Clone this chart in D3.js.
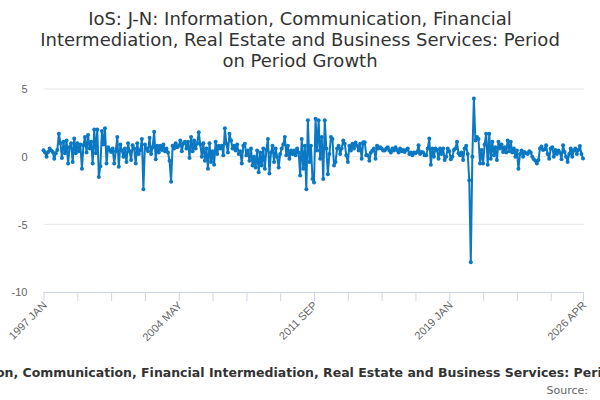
<!DOCTYPE html>
<html lang="en">
<head>
  <meta charset="UTF-8">
  <title>IoS: J-N Period on Period Growth</title>
  <script src="https://d3js.org/d3.v7.min.js"></script>
  <style>
    body { margin: 0; background: #fff; font-family: "DejaVu Sans", sans-serif; }
    .title { font-size: 18px; fill: #333; text-anchor: middle; }
    .grid line { stroke: #e6e6e6; }
    .axis text { font-size: 11px; fill: #666; }
    .x.axis path, .x.axis line { stroke: #ccd6eb; }
    .series { fill: none; stroke: #0a78c2; stroke-width: 2; stroke-linejoin: round; }
    .dot { fill: #0a78c2; }
    .caption { font-size: 12.5px; font-weight: bold; fill: #333; text-anchor: middle; }
    .source { font-size: 11px; fill: #666; text-anchor: end; }
  </style>
</head>
<body>
  <div id="chart"></div>
  <script>
    const titleLines = [
      "IoS: J-N: Information, Communication, Financial",
      "Intermediation, Real Estate and Business Services: Period",
      "on Period Growth"
    ];
    const caption = "IoS: J-N: Information, Communication, Financial Intermediation, Real Estate and Business Services: Period on Period Growth";

    // monthly growth, 1997 JAN .. 2006 OCT (117 months)
    const growth1997 = [
      0.48, 0.3, 0.0, 0.35, 0.6, 0.45, 0.35, -0.15, 0.25, 0.5,
      1.7, 1.0, -0.1, 1.1, 0.25, 1.2, -0.5, 0.7, 1.0, -0.4,
      1.35, 0.25, 1.0, 0.4, 0.9, -0.9, 0.85, 1.45, 0.3, 1.6,
      0.6, 1.1, -0.5, 2.0, 0.25, 2.0, -1.5, -0.7, 1.9, 0.9,
      2.1, -0.5, 0.7, 0.5, 0.35, 0.6, -0.5, 0.4, 1.45, -0.75,
      0.9, 0.45, 0.0, 0.6, -0.4, 1.0, 0.4, -0.25, 0.85, 0.6,
      -0.5, 1.0, 0.2, 0.5, 1.3, -2.4, 0.9, 0.6, 0.4, 1.4,
      0.2, 0.7, 1.85, -0.2, 0.8, 0.3, 0.8, 0.5, 0.9, 0.4,
      0.6, 0.3, -0.3, -1.85, 0.8, 0.6, 1.0, 0.7, 0.8, 1.2,
      0.4, 1.0, 1.1, 0.6, 1.1, -0.1, 1.45, 0.4, 1.2, 0.6,
      1.0, 1.8, 0.9, 0.0, 1.0, -0.3, 0.6, -0.9, 1.0, -0.4,
      0.4, -0.6, 1.1, 0.2, 0.8, 0.6, 0.8
    ];
    // 2006 NOV .. 2016 JUL (117 months)
    const growth2006 = [
      0.1, 2.1, 0.95, 0.3, 1.7, 1.2, 0.6, 0.8, 0.45, 0.9,
      0.2, 0.4, -0.5, 0.8, 0.95, 0.1, 0.45, -0.3, 0.6, -0.65,
      0.0, -0.8, 0.45, -1.15, 0.3, -0.65, 0.6, -0.9, 0.5, 1.3,
      -1.25, 0.3, 0.8, -0.4, 0.6, 0.0, -0.8, 0.2, 0.6, 0.9,
      1.45, 0.1, 0.8, -0.15, 0.45, 0.2, 0.45, 0.1, 0.6, 0.3,
      -1.4, 1.3, -0.9, 0.8, -2.4, 2.7, -0.4, 0.8, -1.65, -1.9,
      2.8, 0.45, 2.7, -0.15, 1.45, -1.65, 2.7, 0.6, -1.3, 0.2,
      1.45, 1.3, -0.65, -0.4, 0.6, 0.8, 0.2, 0.6, 1.2, 0.95,
      0.1, -0.4, 0.8, 0.45, 0.95, 0.6, 1.05, 0.8, 0.45, 0.95,
      -0.15, 1.07, 1.07, 0.1, 0.1, -0.3, 0.3, 0.45, 0.6, -0.15,
      0.8, 0.6, 0.7, 0.6, 0.45, 0.45, 0.6, 0.7, 0.45, 0.3,
      0.6, 0.45, 0.7, 0.5, 0.3, 0.6, 0.4
    ];
    // 2016 AUG .. 2026 APR (118 months)
    const growth2016 = [
      0.5, 0.35, 0.5, 0.6, 0.2, 0.3, 0.1, 0.3, 0.25, 0.35,
      0.85, 0.2, 0.35, 0.3, 0.1, 0.1, 0.6, 1.35, -0.6, 0.6,
      0.0, 0.6, 0.5, -0.15, 0.6, 0.2, 0.6, -0.25, 0.0, 0.6,
      0.4, -0.2, 0.0, 0.5, 0.6, 1.1, 0.25, 0.1, 0.3, -0.25,
      0.6, 0.8, 0.2, -1.75, -7.8, 0.0, 4.3, 1.2, 1.45, 1.3,
      -0.5, 0.5, -0.5, 0.9, 1.7, -0.6, 1.7, -0.15, 1.1, 0.1,
      0.7, -0.25, 1.1, 0.6, 0.9, 0.35, 0.7, 0.3, 1.2, 0.4,
      1.1, 0.3, 0.6, 0.0, 0.45, -0.9, 0.2, 0.45, 0.0, 0.35,
      0.25, 0.2, 0.4, 0.3, 0.0, -0.2, -0.3, -0.5, -0.25, 0.6,
      0.75, 0.5, 0.55, 0.85, 0.2, -0.15, 0.6, 0.7, 0.0, 0.5,
      0.2, 0.45, 0.3, -0.2, 0.85, 0.35, 0.0, -0.4, 0.2, 0.6,
      0.0, 0.45, 0.6, 0.2, 0.5, 0.78, 0.2, -0.13
    ];
    const values = growth1997.concat(growth2006, growth2016);

    const yTicks = [5, 0, -5, -10];
    const xTickIndex = [0, 22, 44, 66, 88, 110, 132, 154, 176, 198, 220, 242, 264, 286, 308, 330, values.length - 1];
    const xLabelIndex = [0, 88, 176, 264, values.length - 1];
    const xLabels = ["1997 JAN", "2004 MAY", "2011 SEP", "2019 JAN", "2026 APR"];

    const W = 600, H = 400;
    const plot = { left: 43.5, right: 583, top: 89, bottom: 292 };

    const svg = d3.select("#chart").append("svg")
      .attr("width", W).attr("height", H);

    // title
    svg.append("text").attr("class", "title")
      .selectAll("tspan").data(titleLines).enter().append("tspan")
      .attr("x", 300)
      .attr("y", (d, i) => 25 + i * 21)
      .text(d => d);

    const x = d3.scaleLinear().domain([0, values.length - 1]).range([plot.left, plot.right]);
    const y = d3.scaleLinear().domain([-10, 5]).range([plot.bottom, plot.top]);

    // horizontal grid
    svg.append("g").attr("class", "grid")
      .selectAll("line").data(yTicks.filter(d => d !== -10)).enter().append("line")
      .attr("x1", plot.left).attr("x2", plot.right + 1)
      .attr("y1", d => y(d)).attr("y2", d => y(d));

    // y axis labels (plain hyphen minus, as in the source chart)
    svg.append("g").attr("class", "y axis")
      .attr("transform", `translate(${plot.left - 16},0)`)
      .call(d3.axisLeft(y).tickValues(yTicks).tickSize(0).tickPadding(0).tickFormat(d => String(d)))
      .call(g => g.select(".domain").remove())
      .selectAll("text").attr("dy", "0.35em");

    // x axis
    const xAxis = svg.append("g").attr("class", "x axis")
      .attr("transform", `translate(0,${plot.bottom})`)
      .call(d3.axisBottom(x).tickValues(xTickIndex).tickSize(9).tickSizeOuter(0).tickFormat(""));
    xAxis.select(".domain").attr("d", `M${plot.left},0.5H${plot.right}`);

    xAxis.selectAll(".xlabel").data(xLabelIndex).enter().append("text")
      .attr("class", "xlabel")
      .attr("text-anchor", "end")
      .attr("transform", d => `translate(${x(d) + 4},${14}) rotate(-45)`)
      .text((d, i) => xLabels[i]);

    // series
    const line = d3.line().x((d, i) => x(i)).y(d => y(d));
    svg.append("path").datum(values).attr("class", "series").attr("d", line);

    svg.selectAll(".dot").data(values).enter().append("circle")
      .attr("class", "dot")
      .attr("cx", (d, i) => x(i))
      .attr("cy", d => y(d))
      .attr("r", 2);

    // bottom caption (wider than the page, clipped both sides as in the source) and source
    svg.append("text").attr("class", "caption")
      .attr("x", 308).attr("y", 377)
      .text(caption);
    svg.append("text").attr("class", "source")
      .attr("x", 588).attr("y", 394)
      .text("Source:");
  </script>
</body>
</html>
